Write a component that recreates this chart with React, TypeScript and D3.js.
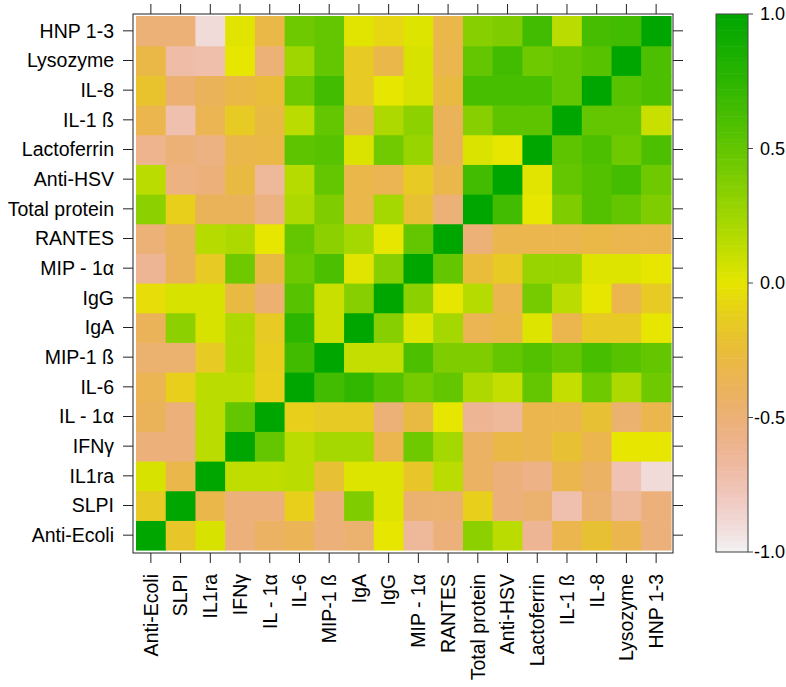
import React from "react";
import * as d3 from "d3";

const labels = [
  "Anti-Ecoli", "SLPI", "IL1ra", "IFNγ", "IL - 1α", "IL-6", "MIP-1 ß", "IgA", "IgG",
  "MIP - 1α", "RANTES", "Total protein", "Anti-HSV", "Lactoferrin", "IL-1 ß", "IL-8",
  "Lysozyme", "HNP 1-3",
];

// corr[i][j]: row variable i (labels order), column variable j
const corr: number[][] = [
  [1, -0.18, 0.05, -0.52, -0.42, -0.37, -0.52, -0.47, 0.0, -0.65, -0.52, 0.33, 0.15, -0.62, -0.33, -0.22, -0.33, -0.52],
  [-0.15, 1, -0.32, -0.52, -0.52, -0.12, -0.52, 0.38, 0.03, -0.47, -0.47, -0.12, -0.52, -0.47, -0.73, -0.47, -0.65, -0.52],
  [0.05, -0.32, 1, 0.13, 0.13, 0.15, -0.22, 0.03, 0.03, -0.18, 0.15, -0.42, -0.52, -0.57, -0.33, -0.42, -0.75, -0.9],
  [-0.52, -0.52, 0.15, 1, 0.5, 0.15, 0.23, 0.23, -0.33, 0.45, 0.23, -0.42, -0.3, -0.33, -0.22, -0.33, 0.0, 0.0],
  [-0.38, -0.52, 0.15, 0.5, 1, -0.12, -0.15, -0.15, -0.5, -0.28, 0.0, -0.62, -0.65, -0.33, -0.33, -0.22, -0.47, -0.33],
  [-0.35, -0.12, 0.15, 0.15, -0.12, 1, 0.65, 0.73, 0.57, 0.42, 0.5, 0.2, 0.12, 0.5, 0.12, 0.45, 0.2, 0.45],
  [-0.47, -0.47, -0.15, 0.2, -0.13, 0.66, 1, 0.12, 0.12, 0.6, 0.38, 0.38, 0.5, 0.57, 0.5, 0.62, 0.55, 0.5],
  [-0.38, 0.33, 0.05, 0.2, -0.15, 0.75, 0.1, 1, 0.35, 0.03, 0.23, -0.35, -0.3, 0.03, -0.33, -0.15, -0.15, 0.0],
  [-0.04, 0.05, 0.05, -0.28, -0.48, 0.55, 0.1, 0.35, 1, 0.33, 0.0, 0.17, -0.33, 0.42, 0.15, 0.0, -0.33, -0.15],
  [-0.62, -0.38, -0.15, 0.45, -0.28, 0.45, 0.6, 0.02, 0.35, 1, 0.5, -0.25, -0.15, 0.28, 0.28, 0.03, 0.03, 0.0],
  [-0.5, -0.38, 0.17, 0.2, 0.0, 0.5, 0.33, 0.23, 0.0, 0.5, 1, -0.5, -0.33, -0.33, -0.33, -0.3, -0.33, -0.33],
  [0.33, -0.12, -0.38, -0.38, -0.55, 0.2, 0.38, -0.32, 0.23, -0.22, -0.5, 1, 0.65, 0.0, 0.38, 0.57, 0.5, 0.38],
  [0.15, -0.55, -0.52, -0.28, -0.65, 0.17, 0.5, -0.32, -0.35, -0.15, -0.32, 0.65, 1, 0.02, 0.5, 0.57, 0.64, 0.45],
  [-0.6, -0.5, -0.55, -0.32, -0.3, 0.52, 0.55, 0.04, 0.44, 0.28, -0.38, 0.04, 0.0, 1, 0.52, 0.6, 0.45, 0.6],
  [-0.33, -0.73, -0.35, -0.15, -0.28, 0.15, 0.5, -0.32, 0.2, 0.32, -0.38, 0.35, 0.52, 0.52, 1, 0.5, 0.5, 0.1],
  [-0.2, -0.48, -0.38, -0.3, -0.25, 0.45, 0.65, -0.15, 0.0, 0.05, -0.28, 0.62, 0.62, 0.62, 0.5, 1, 0.55, 0.6],
  [-0.3, -0.7, -0.72, 0.0, -0.5, 0.25, 0.5, -0.15, -0.32, 0.05, -0.33, 0.5, 0.65, 0.45, 0.5, 0.55, 1, 0.6],
  [-0.5, -0.5, -0.9, 0.02, -0.3, 0.45, 0.5, 0.02, -0.08, 0.03, -0.32, 0.35, 0.38, 0.65, 0.15, 0.63, 0.65, 1],
];

const keyTicks = [1.0, 0.5, 0.0, -0.5, -1.0];

function hsvToRgb(h: number, s: number, v: number): string {
  const c = v * s;
  const hp = h / 60;
  const x = c * (1 - Math.abs((hp % 2) - 1));
  let r = 0, g = 0, b = 0;
  if (hp < 1) { r = c; g = x; }
  else if (hp < 2) { r = x; g = c; }
  else if (hp < 3) { g = c; b = x; }
  else if (hp < 4) { g = x; b = c; }
  else if (hp < 5) { r = x; b = c; }
  else { r = c; b = x; }
  const m = v - c;
  return d3.rgb((r + m) * 255, (g + m) * 255, (b + m) * 255).formatHex();
}

// terrain.colors-like ramp: 1 -> green, 0 -> yellow, -1 -> near white
function terrain(val: number): string {
  const t = Math.max(0, Math.min(1, (1 - val) / 2));
  if (t <= 0.5) {
    const u = t / 0.5;
    return hsvToRgb(120 - 60 * u, 1, 0.65 + 0.25 * u);
  }
  const u = (t - 0.5) / 0.5;
  return hsvToRgb(60 - 60 * u, 1 - u, 0.9 + 0.05 * u);
}

const FONT = "'Liberation Sans', Arial, Helvetica, sans-serif";
const FS = 19.5;

export default function App() {
  const W = 786, H = 687;
  const cx0 = 136, cx1 = 671, cy0 = 16, cy1 = 550;
  const fx0 = 133, fx1 = 673, fy0 = 14, fy1 = 553;

  const x = d3.scaleBand<string>().domain(labels).range([cx0, cx1]);
  const y = d3.scaleBand<string>().domain([...labels].reverse()).range([cy0, cy1]);
  const bw = x.bandwidth();
  const bh = y.bandwidth();

  const kx0 = 716, kx1 = 748, ky0 = 14, ky1 = 552;
  const ky = d3.scaleLinear().domain([-1, 1]).range([ky1, ky0]);
  const levels = d3.range(100).map((i) => -1 + (i * 2) / 100);

  const cells: JSX.Element[] = [];
  labels.forEach((rl, i) => {
    labels.forEach((cl, j) => {
      cells.push(
        <rect
          key={`${i}-${j}`}
          x={x(cl)!}
          y={y(rl)!}
          width={bw + 0.6}
          height={bh + 0.6}
          fill={terrain(corr[i][j])}
        />
      );
    });
  });

  return (
    <div style={{ position: "absolute", left: 0, top: 0 }}>
      <svg width={W} height={H} style={{ display: "block", background: "#fff" }}>
        <rect x={0} y={0} width={W} height={H} fill="#fff" />
        {cells}
        <rect x={fx0} y={fy0} width={fx1 - fx0} height={fy1 - fy0} fill="none" stroke="#222" strokeWidth={1} />
        {labels.map((l) => {
          const cx = x(l)! + bw / 2;
          return (
            <g key={"xt" + l}>
              <line x1={cx} x2={cx} y1={fy1} y2={fy1 + 10} stroke="#222" />
              <line x1={cx} x2={cx} y1={fy0} y2={fy0 - 10} stroke="#222" />
              <text
                transform={`translate(${cx},${fy1 + 21}) rotate(-90)`}
                textAnchor="end"
                dy="0.35em"
                fontSize={FS}
                fontFamily={FONT}
                fill="#000"
              >
                {l}
              </text>
            </g>
          );
        })}
        {labels.map((l) => {
          const cy = y(l)! + bh / 2;
          return (
            <g key={"yt" + l}>
              <line x1={fx0 - 10} x2={fx0} y1={cy} y2={cy} stroke="#222" />
              <line x1={fx1} x2={fx1 + 10} y1={cy} y2={cy} stroke="#222" />
              <text x={fx0 - 19} y={cy} dy="0.35em" textAnchor="end" fontSize={FS} fontFamily={FONT} fill="#000">
                {l}
              </text>
            </g>
          );
        })}
        {levels.map((lv, i) => (
          <rect
            key={"k" + i}
            x={kx0}
            y={ky(lv + 0.02)}
            width={kx1 - kx0}
            height={ky(lv) - ky(lv + 0.02) + 0.5}
            fill={terrain(lv + 0.01)}
          />
        ))}
        <rect x={kx0} y={ky0} width={kx1 - kx0} height={ky1 - ky0} fill="none" stroke="#444" strokeWidth={1} />
        {keyTicks.map((t) => (
          <g key={"kt" + t}>
            <line x1={kx1} x2={kx1 + 5} y1={ky(t)} y2={ky(t)} stroke="#444" />
            <text x={785} y={ky(t)} dy="0.35em" textAnchor="end" fontSize={18} fontFamily={FONT} fill="#000">
              {t.toFixed(1)}
            </text>
          </g>
        ))}
      </svg>
    </div>
  );
}
